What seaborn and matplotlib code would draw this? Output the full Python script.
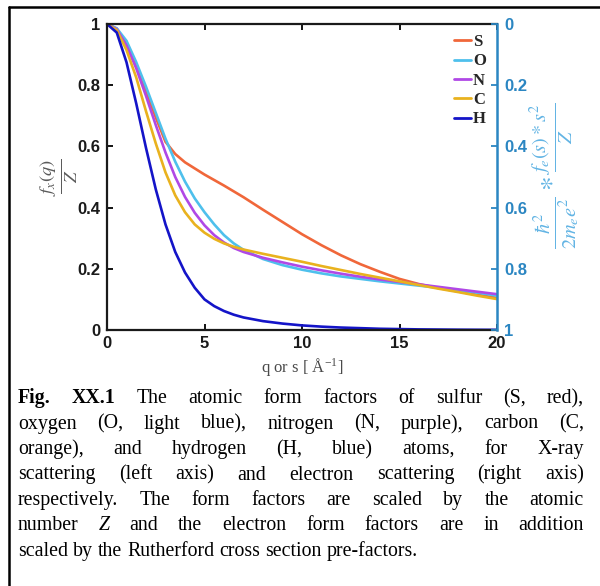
import matplotlib
matplotlib.use("Agg")
import matplotlib.pyplot as plt
import seaborn as sns
import pandas as pd
from matplotlib.lines import Line2D
from matplotlib.font_manager import FontProperties

# ---------------- data ----------------
q = [0, 0.5, 1, 1.5, 2, 2.5, 3, 3.5, 4, 4.5, 5, 5.5, 6, 6.5, 7, 8, 9, 10,
     11, 12, 13, 14, 15, 16, 17, 18, 19, 20]
S = [1, 0.985, 0.935, 0.862, 0.78, 0.695, 0.615, 0.575, 0.548, 0.528, 0.508,
     0.49, 0.472, 0.453, 0.434, 0.393, 0.353, 0.313, 0.277, 0.244, 0.215,
     0.19, 0.167, 0.15, 0.137, 0.126, 0.115, 0.105]
O = [1, 0.986, 0.945, 0.875, 0.795, 0.71, 0.625, 0.55, 0.485, 0.43, 0.385,
     0.345, 0.31, 0.283, 0.262, 0.232, 0.212, 0.197, 0.185, 0.175, 0.167,
     0.159, 0.152, 0.145, 0.138, 0.13, 0.122, 0.112]
N = [1, 0.983, 0.93, 0.855, 0.765, 0.67, 0.58, 0.5, 0.435, 0.383, 0.342,
     0.31, 0.286, 0.268, 0.255, 0.236, 0.221, 0.207, 0.195, 0.184, 0.174,
     0.165, 0.157, 0.149, 0.141, 0.133, 0.125, 0.117]
C = [1, 0.98, 0.915, 0.825, 0.715, 0.61, 0.515, 0.44, 0.385, 0.345, 0.318,
     0.298, 0.283, 0.272, 0.263, 0.249, 0.236, 0.223, 0.209, 0.196, 0.183,
     0.171, 0.159, 0.147, 0.135, 0.124, 0.112, 0.101]
H = [1, 0.972, 0.875, 0.74, 0.595, 0.46, 0.345, 0.255, 0.188, 0.138, 0.1,
     0.078, 0.062, 0.05, 0.041, 0.029, 0.021, 0.015, 0.011, 0.008, 0.006,
     0.004, 0.003, 0.002, 0.0015, 0.001, 0.0007, 0.0005]

elements = ["S", "O", "N", "C", "H"]
series = {"S": S, "O": O, "N": N, "C": C, "H": H}
colors = {"S": "#F0673A", "O": "#4EC0EC", "N": "#B048E6", "C": "#E9B21E",
          "H": "#1414C8"}

x_ticks = [0, 5, 10, 15, 20]
x_ticklabels = ["0", "5", "10", "15", "20"]
y_ticks = [0, 0.2, 0.4, 0.6, 0.8, 1]
y_ticklabels = ["0", "0.2", "0.4", "0.6", "0.8", "1"]
y2_ticklabels = ["0", "0.2", "0.4", "0.6", "0.8", "1"]

caption_lines = [
    "Fig. XX.1 The atomic form factors of sulfur (S, red),",
    "oxygen (O, light blue), nitrogen (N, purple), carbon (C,",
    "orange), and hydrogen (H, blue) atoms, for X-ray",
    "scattering (left axis) and electron scattering (right axis)",
    "respectively. The form factors are scaled by the atomic",
    "number Z and the electron form factors are in addition",
    "scaled by the Rutherford cross section pre-factors.",
]
bold_words = {"Fig.", "XX.1"}
italic_words = {"Z"}

rows = []
for el in elements:
    for qq, v in zip(q, series[el]):
        rows.append({"q": qq, "value": v, "element": el})
df = pd.DataFrame(rows)

# ---------------- style ----------------
sns.set_theme(style="ticks")
plt.rcParams["font.family"] = ["Liberation Sans", "DejaVu Sans"]
plt.rcParams["mathtext.fontset"] = "stix"

W, Hpx = 600, 586
fig = plt.figure(figsize=(W / 100, Hpx / 100), dpi=100)
fig.patch.set_facecolor("white")

ax_l, ax_r, ax_t, ax_b = 107, 497, 24, 330
ax = fig.add_axes([ax_l / W, 1 - ax_b / Hpx, (ax_r - ax_l) / W, (ax_b - ax_t) / Hpx])

sns.lineplot(data=df, x="q", y="value", hue="element", hue_order=elements,
             palette=colors, lw=1.9, ax=ax, estimator=None, sort=False)

ax.set_xlim(0, 20)
ax.set_ylim(0, 1)
ax.set_xticks(x_ticks)
ax.set_xticklabels(x_ticklabels)
ax.set_yticks(y_ticks)
ax.set_yticklabels(y_ticklabels)
tick_font = dict(family="Liberation Sans", weight="bold", size=12)
for lab in ax.get_xticklabels() + ax.get_yticklabels():
    lab.set_fontproperties(FontProperties(**tick_font))
ax.tick_params(axis="both", direction="in", length=4, width=1.3,
               colors="black", labelcolor="#1a1a1a", top=True, right=False)
ax.tick_params(axis="y", pad=5)
ax.tick_params(axis="x", pad=4)
for side in ["left", "bottom", "top"]:
    ax.spines[side].set_color("#1a1a1a")
    ax.spines[side].set_linewidth(1.6)
ax.spines["right"].set_visible(False)

ax.set_xlabel(r"q or s [ Å$^{\mathregular{-1}}$]", family="Liberation Serif",
              fontsize=12, color="#4a4a4a", va="center")
ax.xaxis.set_label_coords(0.5, (ax_b - 368) / (ax_b - ax_t))
ax.set_ylabel(r"$\frac{f_x(q)}{Z}$", fontsize=19, color="#5a5a5a", va="center")
ax.yaxis.set_label_coords((59 - ax_l) / (ax_r - ax_l), 0.5)

# right axis
blue = "#2B86C2"
ax2 = ax.twinx()
ax2.set_ylim(1, 0)
ax2.set_yticks(y_ticks)
ax2.set_yticklabels(y2_ticklabels)
for lab in ax2.get_yticklabels():
    lab.set_fontproperties(FontProperties(**tick_font))
ax2.tick_params(axis="y", direction="in", length=4, width=1.3, colors=blue,
                labelcolor=blue, pad=5)
for side in ["left", "bottom", "top"]:
    ax2.spines[side].set_visible(False)
ax2.spines["right"].set_color(blue)
ax2.spines["right"].set_linewidth(1.8)
ax2.set_ylabel(r"$\frac{\hbar^2}{2m_e e^2} * \frac{f_e(s)*s^2}{Z}$", fontsize=21,
               color="#62B4E4", rotation=90, va="center")
ax2.yaxis.set_label_coords((555 - ax_l) / (ax_r - ax_l), 0.505)

# legend
handles, labels = ax.get_legend_handles_labels()
for h in handles:
    h.set_linewidth(2.0)
ax.legend(handles, labels, frameon=False, loc="upper right",
          bbox_to_anchor=((486 - ax_l) / (ax_r - ax_l), (ax_b - 34) / (ax_b - ax_t)),
          borderpad=0, borderaxespad=0, handlelength=1.05, handletextpad=0.12,
          labelspacing=0.2,
          prop=dict(family="Liberation Serif", weight="bold", size=12))

# frame lines of the page box (left and top)
fig.add_artist(Line2D([9 / W, 9 / W], [0, 1 - 7 / Hpx], transform=fig.transFigure,
                      color="black", lw=1.8))
fig.add_artist(Line2D([9 / W, 1], [1 - 7 / Hpx, 1 - 7 / Hpx], transform=fig.transFigure,
                      color="black", lw=1.8))

# ---------------- justified caption ----------------
renderer = fig.canvas.get_renderer()
cap_left, cap_right = 18, 584
cap_fs = 14.3

base0, spacing = 403, 25.5
for i, line in enumerate(caption_lines):
    y = 1 - (base0 + i * spacing) / Hpx
    words = line.split(" ")
    last = i == len(caption_lines) - 1
    texts = []
    for w in words:
        kw = dict(family="Liberation Serif", fontsize=cap_fs, color="black",
                  va="baseline", ha="left")
        if i == 0 and w in bold_words:
            kw["fontweight"] = "bold"
        if w in italic_words:
            kw["fontstyle"] = "italic"
        texts.append(fig.text(0, y, w, **kw))
    widths = [t.get_window_extent(renderer).width for t in texts]
    if last:
        sp = fig.text(0, 0, "a a", family="Liberation Serif", fontsize=cap_fs)
        sp2 = fig.text(0, 0, "aa", family="Liberation Serif", fontsize=cap_fs)
        gap = sp.get_window_extent(renderer).width - sp2.get_window_extent(renderer).width
        sp.remove(); sp2.remove()
    else:
        gap = (cap_right - cap_left - sum(widths)) / (len(words) - 1)
    xpos = cap_left
    for t, wd in zip(texts, widths):
        t.set_x(xpos / W)
        xpos += wd + gap

fig.savefig("out.png", dpi=100)
